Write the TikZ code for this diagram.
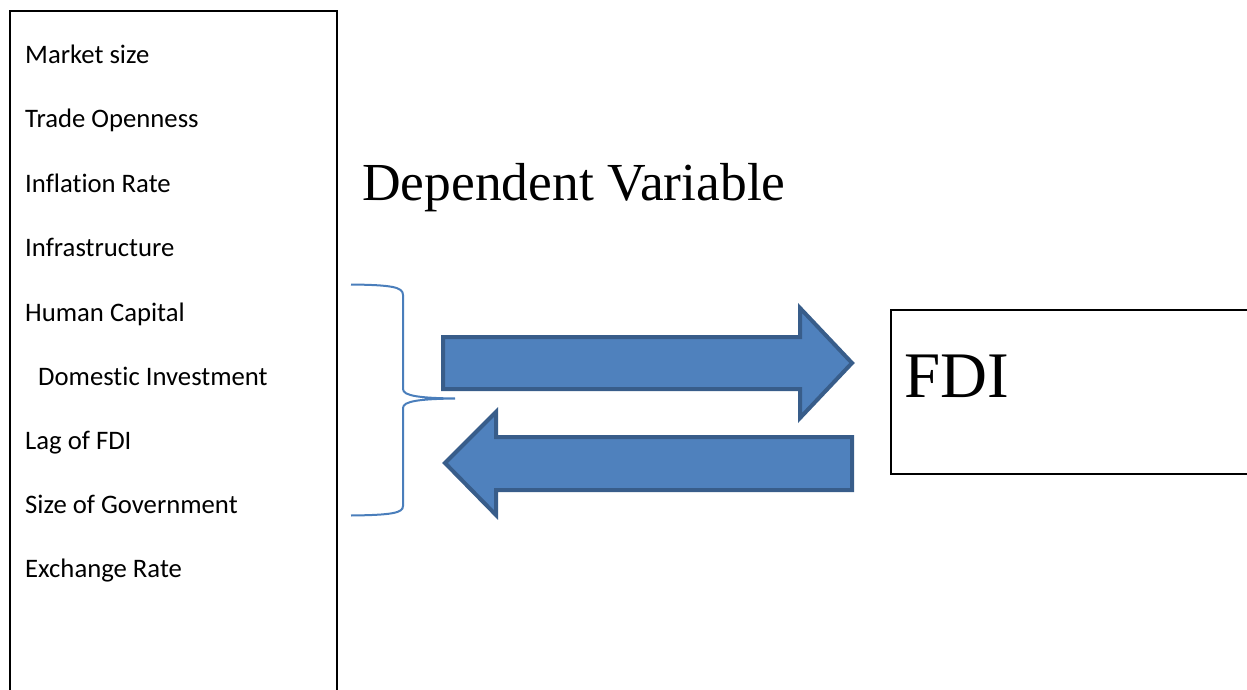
\documentclass[tikz,border=0pt]{standalone}
\usepackage{fontspec}
\setmainfont{Liberation Serif}
\newfontfamily\calib[Ligatures={NoCommon}]{Carlito}
\definecolor{arrfill}{HTML}{4F81BD}
\definecolor{arrline}{HTML}{385D8A}
\definecolor{bracec}{HTML}{4A7EBB}
\begin{document}
\begin{tikzpicture}[x=1pt,y=-1pt,
  item/.style={anchor=base west,inner sep=0pt,font=\calib\fontsize{26.7}{30}\selectfont},
  boxline/.style={draw=black,line width=2.6pt},
  blockarrow/.style={fill=arrfill,draw=arrline,line width=4pt,line join=miter},
  bracestyle/.style={draw=bracec,line width=2pt}]
\useasboundingbox (0,0) rectangle (1247,690);
% left box (open at bottom)
\draw[boxline] (10,692) -- (10,11) -- (337,11) -- (337,692);
\node[item] (n1) at (25,64) {Market size};
\node[item] (n2) at (25,128) {Trade Openness};
\node[item] (n3) at (25,192) {Inflation Rate};
\node[item] (n4) at (25,256) {Infrastructure};
\node[item] (n5) at (25,321) {Human Capital};
\node[item] (n6) at (38,385) {Domestic Investment};
\node[item] (n7) at (25,449) {Lag of FDI};
\node[item] (n8) at (25,513) {Size of Government};
\node[item] (n9) at (25,577) {Exchange Rate};
% title
\node[anchor=base west,inner sep=0pt,font=\fontsize{53.5}{62}\selectfont] (dv) at (362,200) {Dependent Variable};
% FDI box (open at right)
\draw[boxline] (1249,310) -- (891,310) -- (891,474) -- (1249,474);
\node[anchor=base west,inner sep=0pt,font=\fontsize{65}{75}\selectfont] (fdi) at (904,397) {FDI};
% brace
\draw[bracestyle] (351,284.5) .. controls (392,285) and (403,287) .. (403,295) -- (403,389)
  .. controls (403,396) and (420,398) .. (455,398.5)
  .. controls (420,399) and (403,401) .. (403,408) -- (403,506)
  .. controls (403,513) and (392,515) .. (351,515.5);
% right arrow
\draw[blockarrow] (443,337) -- (800,337) -- (800,308) -- (852,363) -- (800,418) -- (800,389) -- (443,389) -- cycle;
% left arrow
\draw[blockarrow] (852,437) -- (496,437) -- (496,412) -- (445,463) -- (496,515) -- (496,490) -- (852,490) -- cycle;
\end{tikzpicture}
\end{document}
